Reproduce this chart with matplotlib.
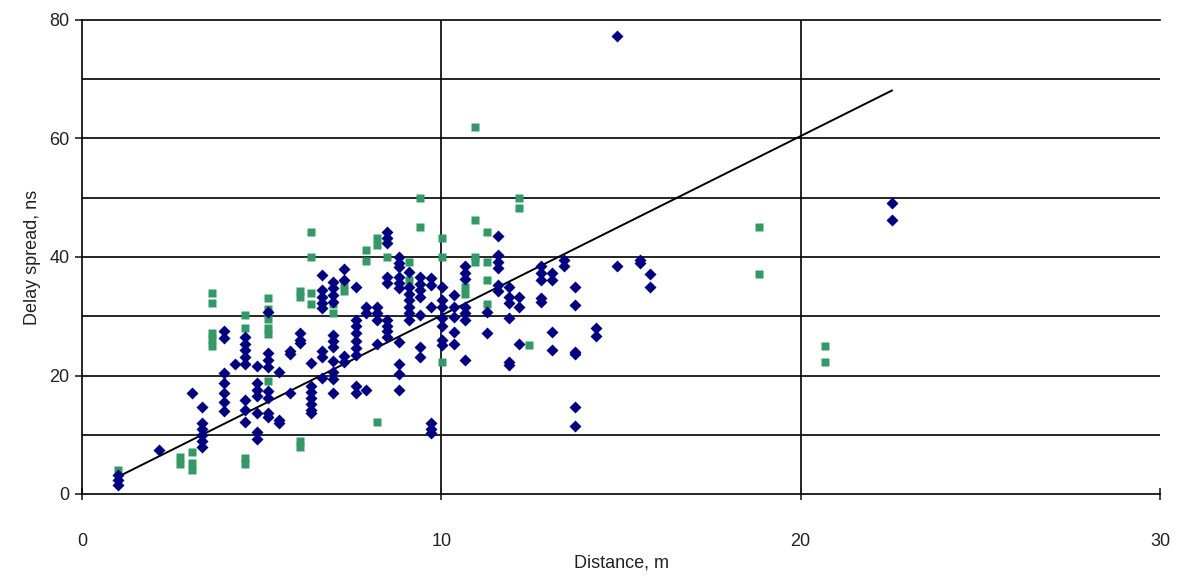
import matplotlib.pyplot as plt
import numpy as np

# blue series (diamonds): distance in m, delay spread in ns
blue_x = [1.0, 1.0, 1.0,
          2.14,
          3.05,
          3.35, 3.35, 3.35, 3.35, 3.35, 3.35,
          3.94, 3.94, 3.94, 3.94, 3.94, 3.94, 3.94,
          4.25,
          4.55, 4.55, 4.55, 4.55, 4.55, 4.55, 4.55, 4.55,
          4.87, 4.87, 4.87, 4.87, 4.87, 4.87, 4.87,
          5.18, 5.18, 5.18, 5.18, 5.18, 5.18, 5.18, 5.18,
          5.48, 5.48, 5.48,
          5.8, 5.8, 5.8,
          6.06, 6.06, 6.06,
          6.38, 6.38, 6.38, 6.38, 6.38, 6.38, 6.38,
          6.68, 6.68, 6.68, 6.68, 6.68, 6.68, 6.68, 6.68,
          6.98, 6.98, 6.98, 6.98, 6.98, 6.98, 6.98, 6.98, 6.98, 6.98, 6.98,
          7.3, 7.3, 7.3, 7.3,
          7.63, 7.63, 7.63, 7.63, 7.63, 7.63, 7.63, 7.63, 7.63,
          7.9, 7.9, 7.9,
          8.2, 8.2, 8.2, 8.2,
          8.5, 8.5, 8.5, 8.5, 8.5, 8.5, 8.5, 8.5, 8.5,
          8.83, 8.83, 8.83, 8.83, 8.83, 8.83, 8.83, 8.83, 8.83, 8.83,
          9.1, 9.1, 9.1, 9.1, 9.1, 9.1, 9.1,
          9.4, 9.4, 9.4, 9.4, 9.4, 9.4, 9.4,
          9.72, 9.72, 9.72, 9.72, 9.72, 9.72,
          10.02, 10.02, 10.02, 10.02, 10.02, 10.02, 10.02,
          10.36, 10.36, 10.36, 10.36, 10.36,
          10.66, 10.66, 10.66, 10.66, 10.66, 10.66, 10.66,
          11.27, 11.27,
          11.58, 11.58, 11.58, 11.58, 11.58, 11.58,
          11.87, 11.87, 11.87, 11.87, 11.87, 11.87,
          12.17, 12.17, 12.17,
          12.77, 12.77, 12.77, 12.77, 12.77,
          13.07, 13.07, 13.07, 13.07,
          13.4, 13.4,
          13.72, 13.72, 13.72, 13.72, 13.72, 13.72,
          14.3, 14.3,
          14.9, 14.9,
          15.53, 15.53,
          15.82, 15.82,
          22.54, 22.54]
blue_y = [3.2, 2.4, 1.6,
          7.5,
          17,
          14.7, 12, 11, 10, 9, 8,
          27.5, 26.3, 20.4, 18.7, 17, 15.5, 14,
          22,
          26.5, 25.4, 24.3, 23.2, 22, 15.8, 14.2, 12.2,
          21.6, 18.7, 17.5, 16.5, 13.6, 10.5, 9.3,
          30.8, 23.8, 22.6, 21.5, 17.3, 16.2, 13.6, 13,
          20.6, 12.5, 12,
          24.2, 23.6, 17,
          27.2, 26, 25.5,
          22.1, 18.3, 17.2, 16.2, 15.2, 14.2, 13.6,
          37, 34.4, 33.3, 32.2, 31.4, 24.2, 23.2, 19.6,
          35.8, 34.7, 33.6, 32.4, 26.8, 25.8, 24.8, 22.5, 20.6, 19.4, 17,
          38, 36.1, 23.3, 22.3,
          35, 29.4, 28.3, 27.2, 25.8, 24.6, 23.4, 18.3, 17,
          31.6, 30.6, 17.5,
          31.6, 30.5, 29.3, 25.4,
          44.2, 43.2, 42.3, 36.7, 35.6, 29.4, 28.4, 27.5, 26.5,
          40, 39, 38.3, 36.6, 35.6, 34.7, 25.7, 22, 20.2, 17.5,
          37.5, 35, 33.8, 32.7, 31.6, 30.5, 29.4,
          36.6, 35.5, 34.4, 33.3, 30.2, 24.8, 23.1,
          36.4, 35.2, 31.5, 12, 11, 10.3,
          35, 32.7, 31.6, 29.7, 28.4, 26, 25.2,
          33.6, 31.6, 29.9, 27.4, 25.4,
          38.4, 37.3, 36.3, 31.6, 30.5, 29.3, 22.6,
          30.8, 27.1,
          43.5, 40.3, 39.2, 38.1, 35.3, 34.2,
          35, 33.3, 32.2, 29.7, 22.3, 21.8,
          33.2, 31.6, 25.3,
          38.4, 37.3, 36.2, 33.1, 32.4,
          37.3, 36.1, 27.4, 24.3,
          39.5, 38.4,
          35, 31.9, 24, 23.6, 14.7, 11.4,
          28, 26.6,
          77.3, 38.4,
          39.5, 39,
          37.2, 35,
          49.1, 46.2]

# green series (squares)
green_x = [1.0,
           2.72, 2.72,
           3.05, 3.05, 3.05,
           3.62, 3.62, 3.62, 3.62, 3.62,
           4.55, 4.55, 4.55, 4.55,
           5.18, 5.18, 5.18, 5.18, 5.18, 5.18,
           6.06, 6.06, 6.06, 6.06,
           6.38, 6.38, 6.38, 6.38,
           6.98, 6.98,
           7.3, 7.3,
           7.9, 7.9,
           8.2, 8.2, 8.2,
           8.5,
           9.1, 9.1,
           9.4, 9.4,
           10.02, 10.02, 10.02,
           10.66, 10.66,
           10.93, 10.93, 10.93, 10.93,
           11.27, 11.27, 11.27, 11.27,
           12.17, 12.17,
           12.44,
           18.83, 18.83,
           20.67, 20.67]
green_y = [4,
           6.2, 5.0,
           7.1, 5.2, 4.0,
           34, 32.2, 27.2, 26.1, 25,
           30.2, 28.1, 6.0, 5.0,
           33, 31.3, 29.5, 28, 27, 19,
           34.3, 33.3, 9, 8,
           44.2, 40, 34, 32.1,
           32, 30.6,
           35.5, 34.2,
           41.2, 39.3,
           43.2, 42, 12.1,
           40,
           39.2, 36.1,
           50, 45.1,
           43.2, 40, 22.2,
           35, 33.8,
           62, 46.2, 40, 39.2,
           44.3, 39.2, 36.1, 32.1,
           50, 48.2,
           25.1,
           45, 37.1,
           25, 22.2]

# trend line end points
trend_x = [1.0, 22.54]
trend_y = [2.9, 68.1]

plt.rcParams['font.family'] = ['Liberation Sans', 'DejaVu Sans']

fig = plt.figure(figsize=(11.8, 5.79), dpi=100)
ax = fig.add_axes([82 / 1180, 1 - 494 / 579, 1078 / 1180, 474 / 579])

ax.plot(trend_x, trend_y, color='black', lw=1.4, zorder=2)
ax.plot(green_x, green_y, 's', color='#339966', ms=5.5, mec='none', zorder=3)
ax.plot(blue_x, blue_y, 'D', color='#000080', ms=6.3, mec='none', zorder=4)

ax.set_xlim(0, 30)
ax.set_ylim(0, 80)
ax.set_xticks([0, 10, 20, 30])
ax.set_yticks([0, 20, 40, 60, 80])

# horizontal grid every 10, vertical at 10 and 20
for yv in range(10, 80, 10):
    ax.axhline(yv, color='black', lw=1.2, zorder=1)
for xv in [10, 20]:
    ax.axvline(xv, color='black', lw=1.2, zorder=1)

ax.spines['right'].set_visible(False)
for s in ['left', 'bottom', 'top']:
    ax.spines[s].set_linewidth(1.2)

ax.tick_params(axis='y', direction='out', length=5, width=1.2, pad=4, labelsize=13, colors='#222222')
ax.tick_params(axis='x', direction='inout', length=8, width=1.2, pad=24, labelsize=13, colors='#222222')

ax.set_xlabel('Distance, m', fontsize=13, labelpad=3, color='#222222')
ax.set_ylabel('Delay spread, ns', fontsize=13, labelpad=6, color='#222222')

fig.savefig('out.png', dpi=100)
